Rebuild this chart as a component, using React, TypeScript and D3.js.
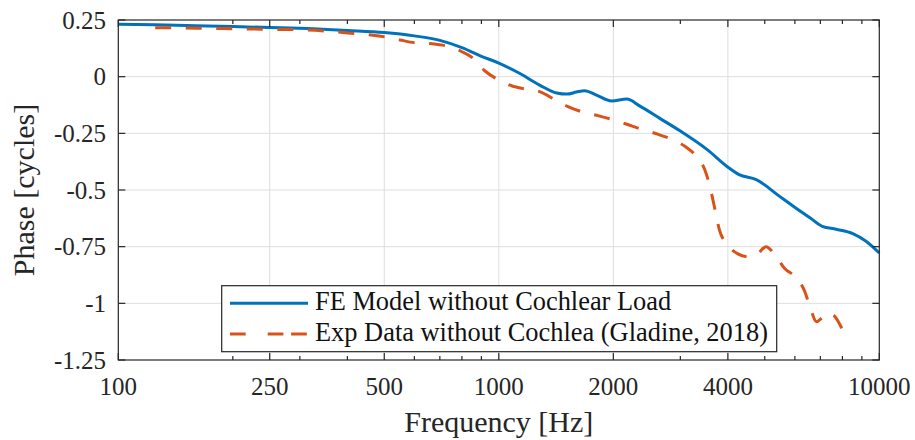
import React, { useEffect, useRef } from "react";
import * as d3 from "d3";

// Frequency axis (Hz) and phase axis (cycles)
const FREQ_TICKS = [100, 250, 500, 1000, 2000, 4000, 10000];
const PHASE_TICKS = [0.25, 0, -0.25, -0.5, -0.75, -1, -1.25];
const PHASE_TICK_LABELS = ["0.25", "0", "-0.25", "-0.5", "-0.75", "-1", "-1.25"];

// FE model without cochlear load
const MODEL_FREQ = [
  100, 125, 160, 200, 250, 315, 400, 500, 600, 700, 800, 900, 1000, 1130, 1280,
  1420, 1510, 1600, 1680, 1800, 1980, 2170, 2350, 2650, 3000, 3530, 4030, 4280,
  4750, 5470, 6030, 6600, 7080, 7700, 8520, 9230, 10000,
];
const MODEL_PHASE = [
  0.231, 0.229, 0.225, 0.221, 0.217, 0.212, 0.204, 0.195, 0.18, 0.16, 0.128,
  0.09, 0.06, 0.016, -0.037, -0.072, -0.077, -0.068, -0.062, -0.08, -0.107,
  -0.099, -0.13, -0.184, -0.24, -0.322, -0.403, -0.432, -0.454, -0.528, -0.579,
  -0.625, -0.66, -0.673, -0.692, -0.726, -0.778,
];

// Experimental data without cochlea (Gladine, 2018)
const EXP_FREQ = [
  125, 160, 200, 250, 315, 400, 500, 550, 600, 660, 730, 800, 850, 920, 1000,
  1080, 1180, 1280, 1400, 1520, 1660, 1830, 2000, 2170, 2370, 2600, 2840, 3090,
  3300, 3480, 3580, 3650, 3720, 3800, 3960, 4250, 4520, 4750, 5040, 5280, 5640,
  6000, 6360, 6560, 6840, 7040, 7250, 7540, 7970,
];
const EXP_PHASE = [
  0.216, 0.214, 0.211, 0.209, 0.206, 0.193, 0.176, 0.162, 0.15, 0.146, 0.135,
  0.11, 0.085, 0.025, -0.015, -0.04, -0.055, -0.066, -0.1, -0.132, -0.156,
  -0.173, -0.19, -0.21, -0.232, -0.252, -0.276, -0.308, -0.35, -0.412, -0.478,
  -0.54, -0.605, -0.676, -0.735, -0.782, -0.795, -0.787, -0.75, -0.779, -0.846,
  -0.882, -0.945, -1.01, -1.081, -1.066, -1.044, -1.05, -1.11,
];

const SERIES_LABELS = [
  "FE Model without Cochlear Load",
  "Exp Data without Cochlea (Gladine, 2018)",
];

const W = 915;
const H = 440;
const PLOT = { left: 118.3, right: 879.3, top: 20, bottom: 360 };
const BLUE = "#0072BD";
const ORANGE = "#D95319";
const AXIS = "#262626";
const GRID = "#dedede";
const FONT = "'Liberation Serif', 'Times New Roman', serif";
const DASH = 16;
const GAP_TARGET = 14;

export default function App() {
  const dashRef = useRef<SVGPathElement | null>(null);

  const x = d3.scaleLog().domain([100, 10000]).range([PLOT.left, PLOT.right]);
  const y = d3.scaleLinear().domain([-1.25, 0.25]).range([PLOT.bottom, PLOT.top]);

  const line = d3
    .line<[number, number]>()
    .x((d) => x(d[0]))
    .y((d) => y(d[1]))
    .curve(d3.curveMonotoneX);

  const modelPath = line(MODEL_FREQ.map((f, i) => [f, MODEL_PHASE[i]]) as [number, number][]) || "";
  const expPath = line(EXP_FREQ.map((f, i) => [f, EXP_PHASE[i]]) as [number, number][]) || "";

  // stretch the gap slightly so the dashed curve both starts and ends on a dash
  useEffect(() => {
    const el = dashRef.current;
    if (!el) return;
    const len = el.getTotalLength();
    const n = Math.max(1, Math.round((len - DASH) / (DASH + GAP_TARGET)));
    const gap = (len - DASH) / n - DASH;
    el.setAttribute("stroke-dasharray", `${DASH},${gap.toFixed(3)}`);
  }, [expPath]);

  // minor log ticks between the labelled frequencies
  const minorTicks: number[] = [];
  [100, 1000].forEach((dec) => {
    for (let k = 2; k <= 9; k++) {
      const v = k * dec;
      if (!FREQ_TICKS.includes(v)) minorTicks.push(v);
    }
  });

  const majorLen = 7;
  const minorLen = 4;

  const legend = { x0: 221.7, x1: 776.7, y0: 285.7, y1: 351.7 };

  return (
    <svg
      width={W}
      height={H}
      style={{ position: "absolute", left: 0, top: 0, background: "#fff", fontFamily: FONT }}
    >
      <rect x={0} y={0} width={W} height={H} fill="#fff" />
      {/* grid */}
      <g stroke={GRID} strokeWidth={1}>
        {FREQ_TICKS.slice(1, -1).map((f) => (
          <line key={"gx" + f} x1={x(f)} x2={x(f)} y1={PLOT.top} y2={PLOT.bottom} />
        ))}
        {PHASE_TICKS.slice(1, -1).map((p) => (
          <line key={"gy" + p} x1={PLOT.left} x2={PLOT.right} y1={y(p)} y2={y(p)} />
        ))}
      </g>

      {/* data */}
      <path d={modelPath} fill="none" stroke={BLUE} strokeWidth={3} strokeLinejoin="round" />
      <path
        ref={dashRef}
        d={expPath}
        fill="none"
        stroke={ORANGE}
        strokeWidth={3}
        strokeDasharray={`${DASH},${GAP_TARGET}`}
        strokeLinejoin="round"
      />

      {/* axes box and ticks */}
      <g stroke={AXIS} strokeWidth={1.2}>
        <rect
          x={PLOT.left}
          y={PLOT.top}
          width={PLOT.right - PLOT.left}
          height={PLOT.bottom - PLOT.top}
          fill="none"
        />
        {FREQ_TICKS.map((f) => (
          <g key={"tx" + f}>
            <line x1={x(f)} x2={x(f)} y1={PLOT.bottom} y2={PLOT.bottom - majorLen} />
            <line x1={x(f)} x2={x(f)} y1={PLOT.top} y2={PLOT.top + majorLen} />
          </g>
        ))}
        {minorTicks.map((f) => (
          <g key={"mx" + f}>
            <line x1={x(f)} x2={x(f)} y1={PLOT.bottom} y2={PLOT.bottom - minorLen} />
            <line x1={x(f)} x2={x(f)} y1={PLOT.top} y2={PLOT.top + minorLen} />
          </g>
        ))}
        {PHASE_TICKS.map((p) => (
          <g key={"ty" + p}>
            <line x1={PLOT.left} x2={PLOT.left + majorLen} y1={y(p)} y2={y(p)} />
            <line x1={PLOT.right} x2={PLOT.right - majorLen} y1={y(p)} y2={y(p)} />
          </g>
        ))}
      </g>

      {/* tick labels */}
      <g fill={AXIS} fontSize={25} style={{ fontFamily: FONT }}>
        {FREQ_TICKS.map((f) => (
          <text key={"lx" + f} x={x(f)} y={395} textAnchor="middle">
            {String(f)}
          </text>
        ))}
        {PHASE_TICKS.map((p, i) => (
          <text key={"ly" + p} x={106} y={y(p) + 8.5} textAnchor="end">
            {PHASE_TICK_LABELS[i]}
          </text>
        ))}
      </g>

      {/* axis titles */}
      <text
        x={(PLOT.left + PLOT.right) / 2}
        y={432}
        textAnchor="middle"
        fontSize={30}
        fill={AXIS}
        style={{ fontFamily: FONT }}
      >
        Frequency [Hz]
      </text>
      <text
        transform={`translate(33.5, ${(PLOT.top + PLOT.bottom) / 2}) rotate(-90)`}
        textAnchor="middle"
        fontSize={30}
        fill={AXIS}
        style={{ fontFamily: FONT }}
      >
        Phase [cycles]
      </text>

      {/* legend */}
      <g>
        <rect
          x={legend.x0}
          y={legend.y0}
          width={legend.x1 - legend.x0}
          height={legend.y1 - legend.y0}
          fill="#fff"
          stroke={AXIS}
          strokeWidth={1.2}
        />
        <line x1={230} x2={308} y1={303.3} y2={303.3} stroke={BLUE} strokeWidth={3} />
        <line
          x1={230}
          x2={307}
          y1={334}
          y2={334}
          stroke={ORANGE}
          strokeWidth={3}
          strokeDasharray="15.7,22,15.7,7.7,15.7,30"
        />
        <text x={315} y={310} fontSize={26.4} fill="#111" style={{ fontFamily: FONT }}>
          {SERIES_LABELS[0]}
        </text>
        <text x={315} y={340.5} fontSize={26.4} fill="#111" style={{ fontFamily: FONT }}>
          {SERIES_LABELS[1]}
        </text>
      </g>
    </svg>
  );
}
